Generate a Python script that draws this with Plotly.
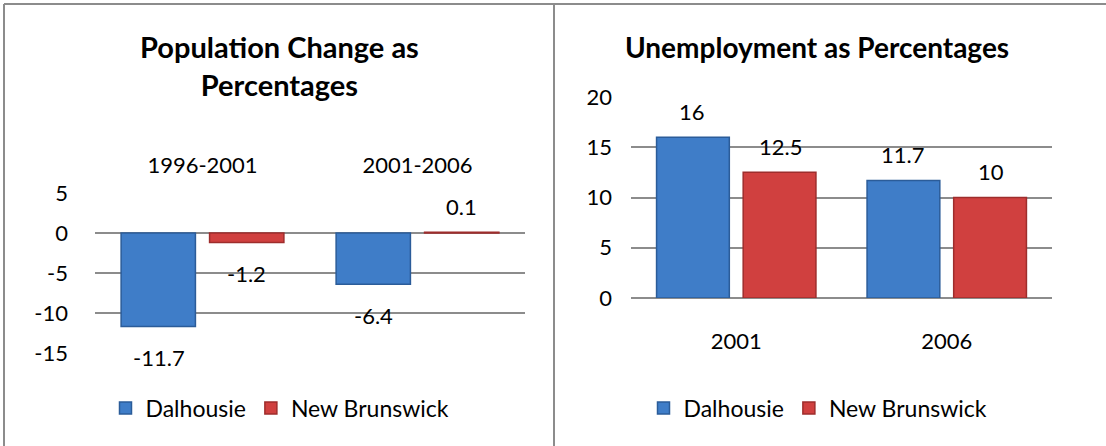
import plotly.graph_objects as go

W, H = 1106, 446

# Population change (%)
pop_periods = ["1996-2001", "2001-2006"]
pop_dalhousie = [-11.7, -6.4]
pop_nb = [-1.2, 0.1]
pop_ticks = [-15, -10, -5, 0, 5]

# Unemployment (%)
unemp_years = ["2001", "2006"]
unemp_dalhousie = [16, 11.7]
unemp_nb = [12.5, 10]
unemp_ticks = [0, 5, 10, 15, 20]

series_names = ["Dalhousie", "New Brunswick"]
BLUE, BLUE_EDGE = "#3f7dc8", "#2b5c99"
RED, RED_EDGE = "#d0403f", "#9e2d2c"
FONT = "Lato"
GRID = "#8c8c8c"


def px_x(v):
    return v / W


def px_y(v):
    return 1 - v / H


fig = go.Figure()

# left panel bars
fig.add_trace(go.Bar(x=pop_periods, y=pop_dalhousie, name=series_names[0],
                     marker=dict(color=BLUE, line=dict(color=BLUE_EDGE, width=1.5)),
                     xaxis="x", yaxis="y", legend="legend"))
fig.add_trace(go.Bar(x=pop_periods, y=pop_nb, name=series_names[1],
                     marker=dict(color=RED, line=dict(color=RED_EDGE, width=1.5)),
                     xaxis="x", yaxis="y", legend="legend"))

# right panel bars
fig.add_trace(go.Bar(x=unemp_years, y=unemp_dalhousie, name=series_names[0],
                     marker=dict(color=BLUE, line=dict(color=BLUE_EDGE, width=1.5)),
                     xaxis="x2", yaxis="y2", legend="legend2"))
fig.add_trace(go.Bar(x=unemp_years, y=unemp_nb, name=series_names[1],
                     marker=dict(color=RED, line=dict(color=RED_EDGE, width=1.5)),
                     xaxis="x2", yaxis="y2", legend="legend2"))

annotations = []


# value labels, placed beyond each bar end (x given as category index)
def add_value_labels(vals, xref, yref, xshift, pos_shift, neg_shift):
    for i, v in enumerate(vals):
        annotations.append(dict(
            x=i, y=v, xref=xref, yref=yref, text=f"{v:g}", showarrow=False,
            xanchor="center", yanchor="middle",
            xshift=xshift, yshift=pos_shift if v >= 0 else -neg_shift,
            font=dict(family=FONT, size=22, color="#000000")))


add_value_labels(pop_dalhousie, "x", "y", -44, 26, 31)
add_value_labels(pop_nb, "x", "y", 44, 26, 31)
add_value_labels(unemp_dalhousie, "x2", "y2", -44, 26, 31)
add_value_labels(unemp_nb, "x2", "y2", 44, 26, 31)

# chart titles
annotations.append(dict(x=px_x(279), y=px_y(66), xref="paper", yref="paper",
                        xanchor="center", yanchor="middle",
                        text="<b>Population Change as<br>Percentages</b>", showarrow=False,
                        font=dict(family=FONT, size=29, color="#000000"), align="center"))
annotations.append(dict(x=px_x(817), y=px_y(47), xref="paper", yref="paper",
                        xanchor="center", yanchor="middle",
                        text="<b>Unemployment as Percentages</b>", showarrow=False,
                        font=dict(family=FONT, size=28, color="#000000"), align="center"))

# chart borders
shapes = [
    dict(type="line", xref="paper", yref="paper", x0=px_x(4), x1=1, y0=px_y(4), y1=px_y(4),
         line=dict(color=GRID, width=2)),
    dict(type="line", xref="paper", yref="paper", x0=px_x(4), x1=px_x(4), y0=0, y1=px_y(4),
         line=dict(color=GRID, width=2)),
    dict(type="line", xref="paper", yref="paper", x0=px_x(554), x1=px_x(554), y0=0, y1=px_y(4),
         line=dict(color=GRID, width=2)),
]

tickfont = dict(family=FONT, size=22, color="#000000")
legendfont = dict(family=FONT, size=23, color="#000000")

fig.update_layout(
    width=W, height=H, margin=dict(l=0, r=0, t=0, b=0, autoexpand=False),
    paper_bgcolor="white", plot_bgcolor="white",
    barmode="group", bargap=0.177, bargroupgap=0.16,
    font=dict(family=FONT, size=22, color="#000000"),
    xaxis=dict(domain=[px_x(95), px_x(525)], anchor="y", side="top", type="category",
               range=[-0.5, 1.5], showgrid=False, showline=False, ticks="", tickfont=tickfont,
               ticklabelstandoff=15, automargin=False),
    yaxis=dict(domain=[px_y(353), px_y(193)], anchor="x", range=[-15, 5],
               tickvals=pop_ticks, ticktext=[str(t) for t in pop_ticks],
               showgrid=True, gridcolor=GRID, gridwidth=1.5,
               zeroline=True, zerolinecolor=GRID, zerolinewidth=1.5,
               showline=False, ticks="", tickfont=tickfont, ticklabelstandoff=26,
               automargin=False),
    xaxis2=dict(domain=[px_x(631), px_x(1052)], anchor="y2", type="category",
                range=[-0.5, 1.5], showgrid=False, showline=False, ticks="", tickfont=tickfont,
                ticklabelstandoff=28, automargin=False),
    yaxis2=dict(domain=[px_y(298), px_y(97)], anchor="x2", range=[0, 20],
                tickvals=unemp_ticks, ticktext=[str(t) for t in unemp_ticks],
                showgrid=True, gridcolor=GRID, gridwidth=1.5,
                zeroline=True, zerolinecolor=GRID, zerolinewidth=1.5,
                showline=False, ticks="", tickfont=tickfont, ticklabelstandoff=18,
                automargin=False),
    legend=dict(orientation="h", x=px_x(280), xanchor="center", y=px_y(408), yanchor="middle",
                font=legendfont, bgcolor="rgba(0,0,0,0)"),
    legend2=dict(orientation="h", x=px_x(818), xanchor="center", y=px_y(408), yanchor="middle",
                 font=legendfont, bgcolor="rgba(0,0,0,0)"),
    annotations=annotations,
    shapes=shapes,
    showlegend=True,
)

fig.write_html("out.html")
